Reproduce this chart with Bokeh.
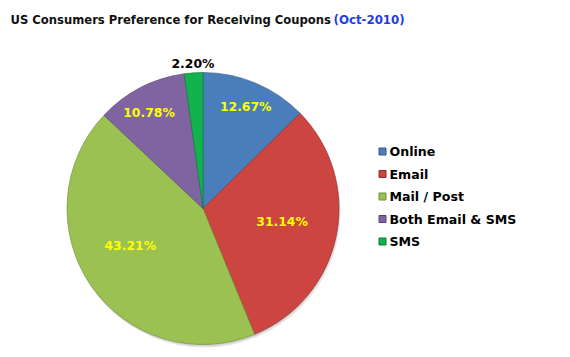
import numpy as np
from bokeh.plotting import figure
from bokeh.models import ColumnDataSource, Range1d
from bokeh.core.properties import value
from bokeh.embed import file_html
from bokeh.resources import INLINE

# ---- data ----
categories = ["Online", "Email", "Mail / Post", "Both Email & SMS", "SMS"]
shares = [12.67, 31.14, 43.21, 10.78, 2.20]
share_labels = ["12.67%", "31.14%", "43.21%", "10.78%", "2.20%"]
title_main = "US Consumers Preference for Receiving Coupons"
title_date = "(Oct-2010)"

# ---- style ----
colors = ["#4A7EBB", "#CC4541", "#9BC152", "#8064A2", "#12B24E"]
edge_colors = ["#2F5A8E", "#8E2A28", "#6F8E34", "#5A437A", "#0A7A35"]
label_colors = ["#FFFF00", "#FFFF00", "#FFFF00", "#FFFF00", "#000000"]
label_r = [0.81, 0.59, 0.60, 0.81, 1.07]
label_dang = [0.0, -2.0, 7.5, -2.0, 0.0]   # degrees clockwise nudge

W, H = 570, 357
cx, cy, R = 202.5, H - 208, 136
FONT = value("DejaVu Sans")

p = figure(width=W, height=H, x_range=Range1d(0, W), y_range=Range1d(0, H),
           output_backend="svg", toolbar_location=None, min_border=0,
           x_axis_location=None, y_axis_location=None)
p.grid.visible = False
p.outline_line_color = None
p.background_fill_color = "white"
p.border_fill_color = "white"

frac = np.array(shares) / np.sum(shares)
cum = np.cumsum(frac)
start = np.pi / 2 - 2 * np.pi * (cum - frac)
end = np.pi / 2 - 2 * np.pi * cum

# soft shadow
p.circle(x=[cx + 1.5], y=[cy - 3], radius=R, fill_color="#000000",
         fill_alpha=0.10, line_color=None)
p.circle(x=[cx + 0.5], y=[cy - 1.5], radius=R, fill_color="#000000",
         fill_alpha=0.10, line_color=None)

src = ColumnDataSource(dict(start=start, end=end, color=colors,
                            edge=edge_colors, cat=categories))
p.wedge(x=cx, y=cy, radius=R, start_angle="start", end_angle="end",
        direction="clock", fill_color="color", line_color="edge",
        line_alpha=0.6, line_width=1, source=src)

mid = (start + end) / 2 - np.radians(label_dang)
lx = cx + np.array(label_r) * R * np.cos(mid)
ly = cy + np.array(label_r) * R * np.sin(mid)
lsrc = ColumnDataSource(dict(x=lx, y=ly, t=share_labels, c=label_colors))
p.text(x="x", y="y", text="t", text_color="c", text_font=FONT,
       text_font_style="bold", text_font_size="12.4px",
       text_align="center", text_baseline="middle", source=lsrc)

# legend
ly_leg = H - (151 + 22.5 * np.arange(len(categories)))
gsrc = ColumnDataSource(dict(x=[382] * len(categories), tx=[389] * len(categories),
                             y=ly_leg, color=colors, edge=edge_colors, cat=categories))
p.rect(x="x", y="y", width=7, height=7, fill_color="color", line_color="edge",
       source=gsrc)
p.text(x="tx", y="y", text="cat", text_color="#000000", text_font=FONT,
       text_font_style="bold", text_font_size="12.6px", text_align="left",
       text_baseline="middle", source=gsrc)

# title
p.text(x=[10], y=[H - 19], text=[title_main], text_color="#111111",
       text_font=FONT, text_font_style="bold", text_font_size="11.6px",
       text_align="left", text_baseline="middle")
p.text(x=[333], y=[H - 19], text=[title_date], text_color="#1F3FD8",
       text_font=FONT, text_font_style="bold", text_font_size="11.8px",
       text_align="left", text_baseline="middle")

open("out.html", "w").write(file_html(p, INLINE))
